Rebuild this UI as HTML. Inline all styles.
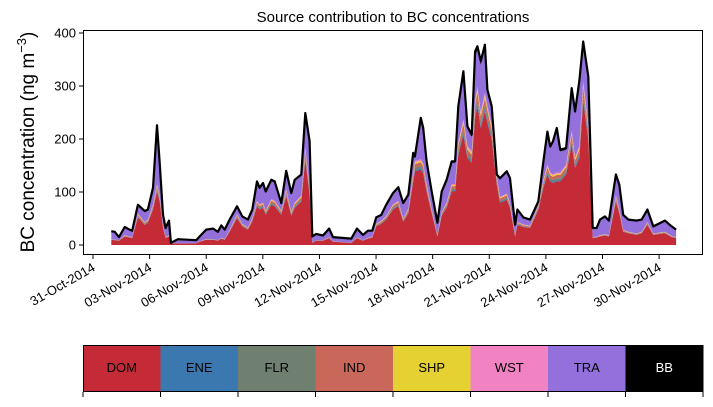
<!DOCTYPE html>
<html><head><meta charset="utf-8"><style>
body{margin:0;background:#fff;width:713px;height:402px;overflow:hidden;font-family:"Liberation Sans","DejaVu Sans",sans-serif}
</style></head><body>
<svg id="chart" width="713" height="402" xmlns="http://www.w3.org/2000/svg" font-family="Liberation Sans, DejaVu Sans, sans-serif"></svg>
<script>
// days since 31-Oct-2014 00:00
const days=[0.97,1.15,1.38,1.68,1.94,2.08,2.38,2.74,2.91,3.18,3.39,3.53,3.71,3.85,4.03,4.13,4.50,5.47,5.65,6.00,6.36,6.62,6.80,6.98,7.24,7.63,7.91,8.21,8.44,8.69,8.83,9.01,9.15,9.45,9.63,9.98,10.24,10.51,10.69,11.04,11.25,11.48,11.62,11.83,12.19,12.51,12.72,13.69,13.99,14.31,14.57,14.80,15.01,15.28,15.54,15.90,16.18,16.44,16.71,16.97,17.06,17.37,17.50,17.68,17.95,18.25,18.48,18.74,19.01,19.19,19.36,19.63,19.84,20.07,20.25,20.37,20.55,20.77,20.90,21.13,21.40,21.57,21.93,22.10,22.37,22.49,22.81,23.16,23.60,23.87,24.08,24.23,24.37,24.58,24.76,25.07,25.37,25.55,25.77,25.98,26.25,26.48,26.69,26.87,27.13,27.34,27.71,27.89,28.10,28.37,28.81,29.08,29.38,29.69,30.31,30.67,30.90];
const total=[26,25,15,34,29,27,76,64,67,108,226,158,57,32,46,4,11,9,16,29,31,25,37,29,48,73,54,48,67,120,108,117,101,123,120,79,140,98,123,133,249,196,16,21,18,31,15,12,31,19,27,27,52,57,76,98,109,79,95,174,167,240,221,158,101,42,101,123,158,158,262,328,224,208,365,375,347,378,293,262,133,126,139,126,38,67,52,48,82,158,214,186,195,221,180,183,296,252,309,384,318,32,32,48,54,46,133,114,57,48,46,48,67,35,46,35,29];
const dom=[10,9,8,16,14,13,52,38,42,67,101,83,32,13,16,3,3,3,6,10,10,8,12,10,25,51,35,29,45,73,67,70,57,76,73,57,92,55,70,82,161,95,4,8,8,13,6,4,13,8,12,14,35,40,48,67,73,44,60,120,139,142,135,101,60,16,55,70,101,101,170,208,164,155,240,262,220,252,230,199,114,80,85,70,16,38,34,32,66,108,133,120,117,120,120,133,189,145,164,271,199,13,14,16,18,16,82,60,25,22,19,22,38,19,22,15,13];
const sources=["DOM","ENE","FLR","IND","SHP","WST","TRA","BB"];
const colors=["#c42b36","#3b78b0","#6f7f70","#c9675a","#e5d132","#f283c2","#9370db","#000000"];
const minorShare=[0.02,0.03,0.05,0.02,0.02]; // ENE,FLR,IND,SHP,WST as fraction of DOM
const bbShare=[0.02];
const yTicks=[0,100,200,300,400];
const xTickDays=[0,3,6,9,12,15,18,21,24,27,30];
const xTickLabels=["31-Oct-2014","03-Nov-2014","06-Nov-2014","09-Nov-2014","12-Nov-2014","15-Nov-2014","18-Nov-2014","21-Nov-2014","24-Nov-2014","27-Nov-2014","30-Nov-2014"];

const NS="http://www.w3.org/2000/svg";
const svg=document.getElementById('chart');
const L=83,R=703,T=30,B=255;
const xs=d=>93+d*18.87;
const ys=v=>245-v*0.53;
function mk(tag,attrs,parent){const e=document.createElementNS(NS,tag);for(const k in attrs)e.setAttribute(k,attrs[k]);(parent||svg).appendChild(e);return e;}

const n=days.length;
const layers=[];
const base=new Array(n).fill(0);
const domTop=dom.slice();
layers.push({lo:base,hi:domTop});
let cur=domTop.slice();
minorShare.forEach(s=>{const hi=cur.map((v,i)=>v+dom[i]*s);layers.push({lo:cur,hi:hi});cur=hi;});
const bbTop=total.slice();
const traTop=total.map((v,i)=>Math.max(cur[i],v-v*bbShare[0]));
layers.push({lo:cur,hi:traTop});
layers.push({lo:traTop,hi:bbTop});
layers.forEach((ly,k)=>{
  let d="M"+days.map((t,i)=>xs(t).toFixed(1)+","+ys(ly.hi[i]).toFixed(1)).join("L");
  for(let i=n-1;i>=0;i--)d+="L"+xs(days[i]).toFixed(1)+","+ys(ly.lo[i]).toFixed(1);
  const p=mk('path',{d:d+"Z",fill:colors[k],stroke:"none"});
  
  
});
const line=mk('polyline',{points:days.map((t,i)=>xs(t).toFixed(1)+","+ys(total[i]).toFixed(1)).join(" "),fill:"none",stroke:"#000","stroke-width":2.2,"stroke-linejoin":"round"});



const fr=mk('rect',{x:L+0.5,y:T+0.5,width:R-L-1,height:B-T-1,fill:"none",stroke:"#000","stroke-width":1});



yTicks.forEach(v=>{
  const y=ys(v);
  mk('line',{x1:L-4,x2:L,y1:y,y2:y,stroke:"#000"});
  const t=mk('text',{x:L-7,y:y+4.5,"text-anchor":"end","font-size":13,fill:"#000"});
  t.textContent=v;
  
  
});
xTickDays.forEach((d,i)=>{
  const x=xs(d);
  mk('line',{x1:x,x2:x,y1:B,y2:B+4,stroke:"#000"});
  const t=mk('text',{x:x+3,y:B+15,"text-anchor":"end","font-size":13,fill:"#000",transform:`rotate(-30 ${x+3} ${B+15})`});
  t.textContent=xTickLabels[i];
  
  
});
const title=mk('text',{x:393,y:22,"text-anchor":"middle","font-size":15,fill:"#000"});
title.textContent="Source contribution to BC concentrations";


const yl=mk('text',{x:0,y:0,"text-anchor":"middle","font-size":19,fill:"#000",transform:"translate(34 142) rotate(-90)"});
yl.innerHTML='BC concentration (ng m<tspan dy="-8" font-size="13">−3</tspan><tspan dy="8">)</tspan>';



const cw=(R-L)/sources.length;
sources.forEach((s,i)=>{
  const x=L+i*cw;
  const r=mk('rect',{x:x,y:345,width:cw+0.5,height:47,fill:colors[i]});
  
  
  const t=mk('text',{x:x+cw/2,y:372,"text-anchor":"middle","font-size":13,fill:s==="BB"?"#fff":"#000"});
  t.textContent=s;
  
  
});
for(let i=0;i<=sources.length;i++){const x=L+i*cw;mk('line',{x1:x,x2:x,y1:392,y2:397,stroke:"#000"});}
const cb=mk('rect',{x:L+0.5,y:345.5,width:R-L-1,height:46,fill:"none",stroke:"#000","stroke-width":1});


</script>
</body></html>
